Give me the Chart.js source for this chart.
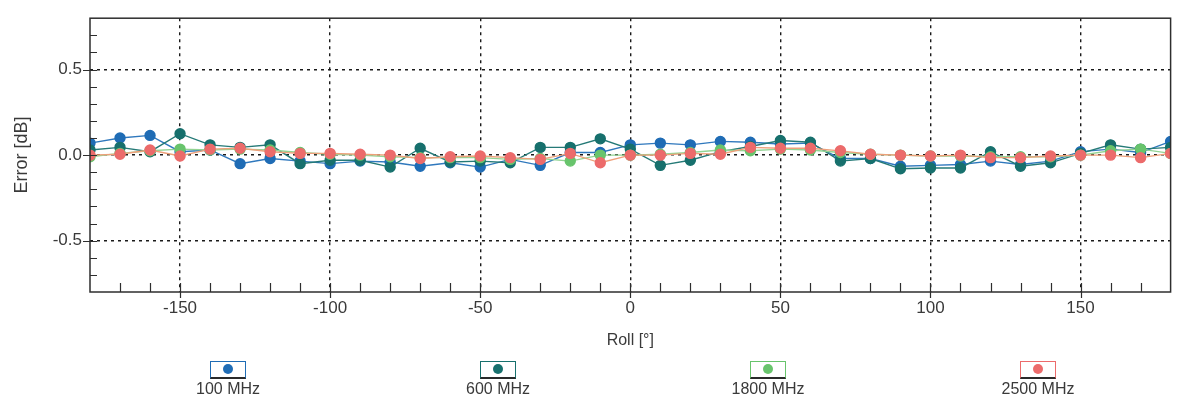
<!DOCTYPE html>
<html lang="en">
<head>
    <meta charset="UTF-8">
    <title>Error vs Roll</title>
    <script src="https://cdn.jsdelivr.net/npm/chart.js"></script>
    <style>
        body {
            margin: 0;
            padding: 0;
            background-color: #ffffff;
            font-family: 'Liberation Sans', Arial, sans-serif;
        }

        .wrap {
            position: relative;
            width: 1177px;
            height: 405px;
        }

        #legend {
            position: absolute;
            left: 93px;
            top: 361px;
            width: 1080px;
            display: flex;
        }

        .item {
            flex: 1;
            text-align: center;
            color: #3a3a3a;
            font-size: 16px;
        }

        .box {
            display: inline-block;
            position: relative;
            width: 34px;
            height: 15px;
            background: #fff;
            border: 1px solid #888;
            border-bottom: 2px solid #333;
        }

        .dot {
            position: absolute;
            left: 12px;
            top: 2px;
            width: 10px;
            height: 10px;
            border-radius: 50%;
        }

        .label {
            margin-top: -3px;
        }
    </style>
</head>
<body>
    <div class="wrap">
        <canvas id="chart" width="1177" height="405"></canvas>
        <div id="legend"></div>
    </div>

    <script>
        // roll angles in degrees
        const roll = [-180, -170, -160, -150, -140, -130, -120, -110, -100, -90, -80, -70, -60,
            -50, -40, -30, -20, -10, 0, 10, 20, 30, 40, 50, 60, 70, 80, 90, 100, 110, 120,
            130, 140, 150, 160, 170, 180];

        const err100 = [0.07, 0.10, 0.115, 0.02, 0.03, -0.05, -0.02, -0.035, -0.05, -0.035, -0.04, -0.065, -0.045,
            -0.07, -0.025, -0.06, 0.015, 0.015, 0.06, 0.07, 0.06, 0.08, 0.075, 0.065, 0.07, -0.02, -0.02,
            -0.065, -0.06, -0.055, -0.035, -0.055, -0.035, 0.02, 0.035, 0.015, 0.08];

        const err600 = [0.03, 0.045, 0.02, 0.125, 0.06, 0.045, 0.06, -0.05, -0.03, -0.03, -0.07, 0.04, -0.04,
            -0.035, -0.045, 0.045, 0.045, 0.095, 0.035, -0.06, -0.03, 0.02, 0.05, 0.085, 0.075, -0.035, -0.02,
            -0.08, -0.075, -0.075, 0.02, -0.065, -0.045, 0.01, 0.06, 0.035, 0.045];

        const err1800 = [-0.01, 0.01, 0.025, 0.035, 0.03, 0.035, 0.03, 0.015, 0.005, 0.0, -0.01, -0.015, -0.015,
            -0.015, -0.025, -0.02, -0.035, 0.0, 0.0, 0.005, 0.015, 0.03, 0.025, 0.035, 0.03, 0.015, 0.005,
            0.0, -0.005, -0.005, -0.01, -0.01, -0.01, 0.0, 0.025, 0.035, 0.01];

        const err2500 = [0.0, 0.005, 0.03, -0.005, 0.035, 0.04, 0.02, 0.01, 0.01, 0.005, 0.0, -0.02, -0.01,
            -0.005, -0.015, -0.025, 0.01, -0.045, 0.0, 0.0, 0.01, 0.005, 0.045, 0.04, 0.04, 0.025, 0.005,
            0.0, -0.005, 0.0, -0.015, -0.015, -0.005, 0.0, 0.0, -0.015, 0.01];

        const seriesNames = ['100 MHz', '600 MHz', '1800 MHz', '2500 MHz'];
        const xTicks = [-150, -100, -50, 0, 50, 100, 150];
        const yTicks = [-0.5, 0.0, 0.5];

        const FONT = "'Liberation Sans', Arial, sans-serif";

        function pts(values) {
            return roll.map((r, i) => ({ x: r, y: values[i] }));
        }

        function series(name, values, pointColor, lineColor, order) {
            return {
                label: name,
                data: pts(values),
                showLine: true,
                borderColor: lineColor,
                borderWidth: 1.4,
                pointBackgroundColor: pointColor,
                pointBorderColor: pointColor,
                pointRadius: 5,
                order: order
            };
        }

        // frame around the plot plus the small inward ticks
        const frameTicks = {
            id: 'frameTicks',
            afterDraw(chart) {
                const { ctx, chartArea: a, scales: { x, y } } = chart;
                ctx.save();
                ctx.strokeStyle = '#2e2e2e';
                ctx.lineWidth = 1.5;
                ctx.strokeRect(a.left, a.top, a.right - a.left, a.bottom - a.top);

                ctx.beginPath();
                for (let v = -170; v <= 170; v += 10) {
                    const px = Math.round(x.getPixelForValue(v)) + 0.5;
                    const major = v % 50 === 0;
                    ctx.moveTo(px, a.bottom + (major ? 6 : 0));
                    ctx.lineTo(px, a.bottom - 9);
                }
                for (let k = -7; k <= 7; k++) {
                    const py = Math.round(y.getPixelForValue(k / 10)) + 0.5;
                    const major = k % 5 === 0;
                    ctx.moveTo(a.left - (major ? 7 : 0), py);
                    ctx.lineTo(a.left + 7, py);
                }
                ctx.lineWidth = 1.2;
                ctx.stroke();
                ctx.restore();
            }
        };

        const ctx = document.getElementById('chart').getContext('2d');
        const chart = new Chart(ctx, {
            type: 'scatter',
            data: {
                datasets: [
                    series(seriesNames[0], err100, '#1f6cb5', '#2f78bd', 4),
                    series(seriesNames[1], err600, '#17706d', '#257a77', 3),
                    series(seriesNames[2], err1800, '#68c46c', '#93d493', 2),
                    series(seriesNames[3], err2500, '#ec6b6b', '#eea07a', 1)
                ]
            },
            options: {
                responsive: false,
                animation: false,
                layout: { padding: { top: 17, right: 5, left: 0, bottom: 53 } },
                plugins: {
                    legend: { display: false },
                    tooltip: { enabled: false }
                },
                scales: {
                    x: {
                        type: 'linear',
                        min: -180,
                        max: 180,
                        afterBuildTicks: s => { s.ticks = xTicks.map(v => ({ value: v })); },
                        afterFit: s => { s.height = 60; },
                        grid: { color: '#1a1a1a', lineWidth: 1.4, drawTicks: false },
                        border: { display: false, dash: [3, 4] },
                        ticks: {
                            padding: 6,
                            color: '#3a3a3a',
                            font: { family: FONT, size: 17 },
                            callback: v => String(v)
                        },
                        title: {
                            display: true,
                            text: 'Roll [°]',
                            color: '#3a3a3a',
                            font: { family: FONT, size: 16 },
                            padding: { top: 0, bottom: 2 }
                        }
                    },
                    y: {
                        min: -0.8,
                        max: 0.8,
                        afterBuildTicks: s => { s.ticks = yTicks.map(v => ({ value: v })); },
                        afterFit: s => { s.width = 90; },
                        grid: { color: '#1a1a1a', lineWidth: 1.4, drawTicks: false },
                        border: { display: false, dash: [3, 4] },
                        ticks: {
                            padding: 8,
                            color: '#3a3a3a',
                            font: { family: FONT, size: 17 },
                            callback: v => Number(v).toFixed(1)
                        },
                        title: {
                            display: true,
                            text: 'Error [dB]',
                            color: '#3a3a3a',
                            font: { family: FONT, size: 18 },
                            padding: { top: 11, bottom: 0 }
                        }
                    }
                }
            },
            plugins: [frameTicks]
        });

        // legend below the chart: marker box on top, name underneath
        const legend = document.getElementById('legend');
        chart.data.datasets.forEach(ds => {
            const item = document.createElement('div');
            item.className = 'item';
            item.innerHTML =
                `<span class="box" style="border-color:${ds.pointBackgroundColor};border-bottom-color:#2a2a2a">` +
                `<span class="dot" style="background:${ds.pointBackgroundColor}"></span></span>` +
                `<div class="label">${ds.label}</div>`;
            legend.appendChild(item);
        });
    </script>
</body>
</html>
